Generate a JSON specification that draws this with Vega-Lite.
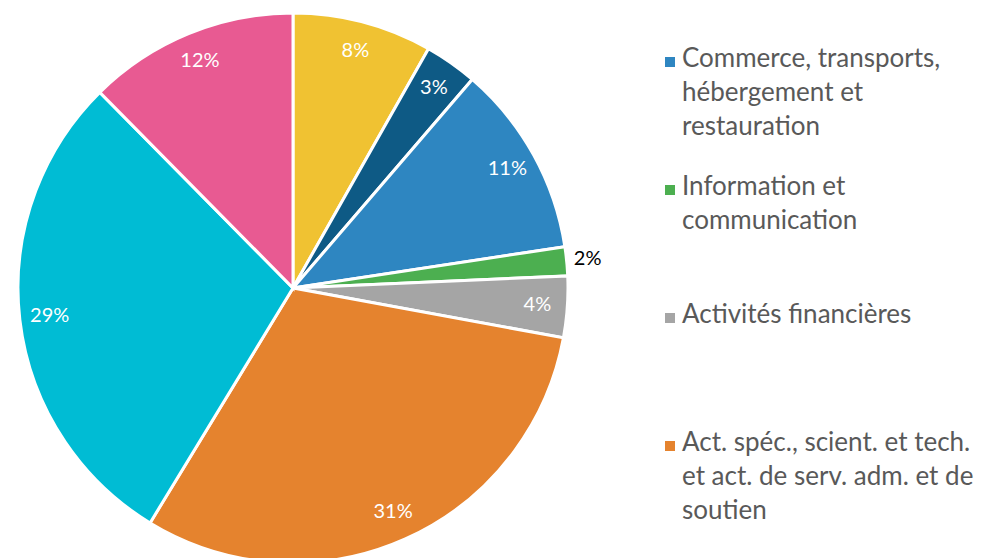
{
  "$schema": "https://vega.github.io/schema/vega-lite/v6.json",
  "width": 586,
  "height": 576,
  "padding": 0,
  "background": "white",
  "config": {
    "style": {"guide-label": {"lineHeight": 34, "dy": -16}}
  },
  "data": {
    "values": [
      {"ordre": 1, "secteur": "Industrie", "part": 8.2, "etiquette": "8%"},
      {"ordre": 2, "secteur": "Construction", "part": 3.1, "etiquette": "3%"},
      {"ordre": 3, "secteur": "Commerce, transports, hébergement et restauration", "part": 11.3, "etiquette": "11%"},
      {"ordre": 4, "secteur": "Information et communication", "part": 1.7, "etiquette": "2%"},
      {"ordre": 5, "secteur": "Activités financières", "part": 3.6, "etiquette": "4%"},
      {"ordre": 6, "secteur": "Act. spéc., scient. et tech. et act. de serv. adm. et de soutien", "part": 30.8, "etiquette": "31%"},
      {"ordre": 7, "secteur": "Administration publique, enseignement, santé et action sociale", "part": 28.9, "etiquette": "29%"},
      {"ordre": 8, "secteur": "Autres activités de services", "part": 12.4, "etiquette": "12%"}
    ]
  },
  "encoding": {
    "theta": {"field": "part", "type": "quantitative", "stack": true},
    "order": {"field": "ordre", "type": "quantitative"}
  },
  "layer": [
    {
      "mark": {"type": "arc", "radius": 275, "stroke": "white", "strokeWidth": 3},
      "encoding": {
        "color": {
          "field": "secteur",
          "type": "nominal",
          "sort": null,
          "scale": {
            "domain": [
              "Industrie",
              "Construction",
              "Commerce, transports, hébergement et restauration",
              "Information et communication",
              "Activités financières",
              "Act. spéc., scient. et tech. et act. de serv. adm. et de soutien",
              "Administration publique, enseignement, santé et action sociale",
              "Autres activités de services"
            ],
            "range": ["#F0C232", "#0E5A85", "#2E86C1", "#4CAF50", "#A5A5A5", "#E5832E", "#00BCD4", "#E85A92"]
          },
          "legend": {
            "title": null,
            "orient": "none",
            "legendX": 657,
            "legendY": 49,
            "values": [
              "Commerce, transports, hébergement et restauration",
              "Information et communication",
              "Activités financières",
              "Act. spéc., scient. et tech. et act. de serv. adm. et de soutien"
            ],
            "labelExpr": "datum.label == 'Commerce, transports, hébergement et restauration' ? ['Commerce, transports,', 'hébergement et', 'restauration'] : datum.label == 'Information et communication' ? ['Information et', 'communication'] : datum.label == 'Activités financières' ? ['Activités financières'] : ['Act. spéc., scient. et tech.', 'et act. de serv. adm. et de', 'soutien']",
            "symbolType": "square",
            "symbolSize": 100,
            "symbolStrokeWidth": 0,
            "labelFont": "Lato",
            "labelFontSize": 26,
            "labelColor": "#595959",
            "labelBaseline": "top",
            "labelOffset": -1,
            "labelLimit": 400,
            "gridAlign": "all",
            "rowPadding": 34
          }
        }
      }
    },
    {
      "mark": {"type": "text", "font": "Lato", "fontSize": 20},
      "encoding": {
        "radius": {"value": {"expr": "datum.ordre == 4 ? 296 : 245"}},
        "color": {"condition": {"test": "datum.ordre == 4", "value": "black"}, "value": "white"},
        "text": {"field": "etiquette", "type": "nominal"}
      }
    }
  ]
}
